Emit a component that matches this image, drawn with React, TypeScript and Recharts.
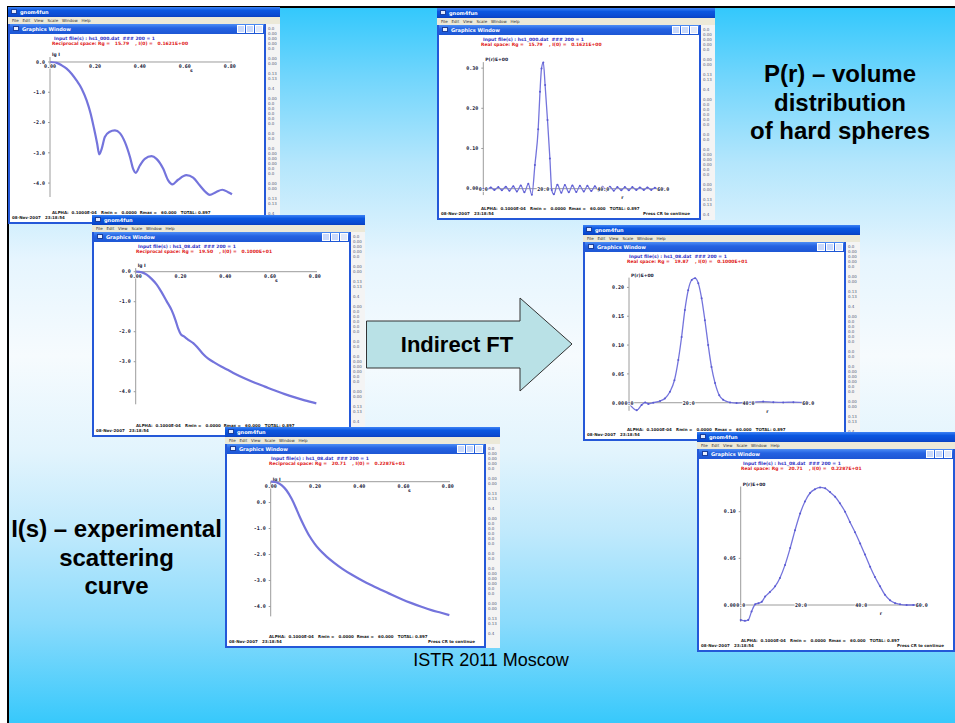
import React from "react";
import { Line, LineChart, ReferenceLine, XAxis, YAxis } from "recharts";

// ---- scattering curves lg I(s) ----
const sphereS = [0, 0.03, 0.052, 0.074, 0.096, 0.118, 0.141, 0.163, 0.181, 0.196, 0.21, 0.219, 0.23, 0.244, 0.264, 0.289, 0.311, 0.333, 0.356, 0.37, 0.382, 0.4, 0.422, 0.452, 0.474, 0.504, 0.526, 0.545, 0.57, 0.607, 0.637, 0.667, 0.693, 0.711, 0.738, 0.767, 0.793, 0.81];
const sphereLogI = [0, -0.03, -0.11, -0.22, -0.39, -0.61, -0.88, -1.27, -1.71, -2.2, -2.7, -3.05, -2.87, -2.48, -2.31, -2.26, -2.35, -2.64, -3.14, -3.53, -3.66, -3.42, -3.2, -3.11, -3.2, -3.53, -3.91, -4.04, -3.89, -3.74, -3.82, -4.08, -4.3, -4.39, -4.3, -4.22, -4.3, -4.37];

const narrowS = [0, 0.027, 0.049, 0.071, 0.094, 0.116, 0.138, 0.161, 0.178, 0.19, 0.202, 0.214, 0.235, 0.257, 0.28, 0.302, 0.324, 0.354, 0.384, 0.413, 0.443, 0.488, 0.532, 0.577, 0.622, 0.666, 0.711, 0.755, 0.807];
const narrowLogI = [0, -0.02, -0.1, -0.24, -0.43, -0.69, -0.98, -1.29, -1.62, -1.9, -2.09, -2.15, -2.27, -2.38, -2.56, -2.75, -2.9, -3.04, -3.17, -3.28, -3.4, -3.56, -3.7, -3.83, -3.96, -4.08, -4.19, -4.29, -4.39];

const broadS = [0, 0.027, 0.049, 0.071, 0.094, 0.113, 0.131, 0.153, 0.175, 0.198, 0.22, 0.25, 0.287, 0.324, 0.369, 0.413, 0.458, 0.503, 0.547, 0.592, 0.636, 0.681, 0.726, 0.77, 0.807];
const broadLogI = [0.8, 0.77, 0.67, 0.47, 0.15, -0.19, -0.55, -0.94, -1.29, -1.58, -1.81, -2.06, -2.32, -2.55, -2.79, -3.0, -3.19, -3.37, -3.55, -3.72, -3.87, -4.01, -4.14, -4.24, -4.33];

// ---- volume distributions P(r) ----
const sphereR = [0, 1.2, 2.5, 3.7, 5.0, 6.2, 7.5, 8.7, 10.0, 11.2, 12.5, 13.7, 15.0, 16.2, 17.2, 18.3, 18.9, 19.4, 20.0, 20.6, 21.4, 22.2, 22.8, 23.5, 24.7, 26.0, 27.2, 28.5, 29.7, 31.0, 32.2, 33.5, 34.7, 36.0, 37.2, 38.5, 39.7, 41.0, 42.2, 43.5, 44.7, 46.0, 47.2, 48.5, 49.7, 51.0, 52.2, 53.5, 54.7, 56.0, 57.2, 58.5, 60.0];
const sphereP = [0, -0.002, 0.003, -0.003, 0.004, -0.004, 0.005, -0.005, 0.006, -0.007, 0.008, -0.009, 0.012, -0.015, 0.059, 0.148, 0.241, 0.299, 0.314, 0.258, 0.171, 0.075, -0.003, -0.014, 0.01, -0.01, 0.009, -0.009, 0.008, -0.008, 0.007, -0.007, 0.007, -0.006, 0.006, -0.006, 0.005, -0.005, 0.005, -0.005, 0.004, -0.004, 0.004, -0.004, 0.004, -0.003, 0.003, -0.003, 0.003, -0.003, 0.002, -0.002, 0];

const narrowR = [0, 2.6, 4.2, 5.4, 6.5, 8.1, 10.4, 12.0, 13.7, 15.2, 16.5, 17.6, 18.7, 19.8, 21.0, 22.1, 23.2, 24.3, 25.4, 26.5, 27.6, 28.8, 30.2, 31.5, 33.8, 36.0, 38.2, 41.6, 44.9, 48.3, 51.6, 55.0, 60.0];
const narrowP = [-0.001, -0.013, -0.004, 0.0006, -0.002, 0, 0.003, 0.0075, 0.019, 0.039, 0.074, 0.114, 0.161, 0.195, 0.213, 0.216, 0.207, 0.181, 0.143, 0.1, 0.062, 0.034, 0.013, 0.005, 0.0006, -0.0006, 0, 0.001, 0.002, 0.001, 0.0006, 0.001, 0];

const broadR = [0, 1.4, 2.5, 3.6, 4.8, 5.9, 7.0, 8.1, 9.7, 11.4, 13.0, 14.7, 16.4, 18.0, 19.7, 21.3, 23.0, 24.6, 26.3, 28.0, 29.6, 31.3, 32.9, 34.6, 36.2, 37.9, 39.6, 41.2, 42.9, 44.5, 46.2, 47.8, 49.5, 51.2, 52.8, 55.0, 57.2, 60.0];
const broadP = [-0.016, -0.017, -0.016, -0.007, 0.0007, 0.002, 0.0036, 0.009, 0.014, 0.02, 0.029, 0.043, 0.061, 0.08, 0.098, 0.111, 0.12, 0.124, 0.126, 0.125, 0.121, 0.116, 0.109, 0.1, 0.089, 0.078, 0.066, 0.054, 0.041, 0.03, 0.02, 0.011, 0.005, 0.002, 0.0007, 0, 0, 0];

const sTicks = [0, 0.2, 0.4, 0.6, 0.8];
const rTicks = [0, 20, 40, 60];
const logTicks = [0, -1, -2, -3, -4];
const prTicksTall = [0, 0.1, 0.2, 0.3];
const prTicksMid = [0, 0.05, 0.1, 0.15, 0.2];
const prTicksLow = [0, 0.05, 0.1];

const STRIP_LINES = ["0.0", "0.00", "0.00", "0.00", "0.0", "", "0.00", "0.00", "", "0.13", "0.13", "", "0.4", "", "0.00", "0.0", "0.0", "0.0", "0.0", "0.0", "", "0.0", "0.0", "", "0.0", "0.00", "0.00", "0.00", "0.0", "0.0", "", "0.00", "0.00", "", "0.13", "0.13", "", "0.4"];

const zip = (xs: number[], ys: number[]) => xs.map((x, i) => ({ x, y: ys[i] }));

const CURVE = "#7474dc";
const AXIS = "#9c9c9c";
const LABEL = "#1a1a3a";
const X_AXIS_H = 8;
const Y_AXIS_W = 36;
const MONO = "'DejaVu Sans Mono', monospace";

interface PlotProps {
  data: { x: number; y: number }[];
  w: number;
  h: number;
  left: number;
  right: number;
  top: number;
  bottom: number;
  xDomain: [number, number];
  yDomain: [number, number];
  xTicks: number[];
  yTicks: number[];
  xDigits: number;
  yDigits: number;
  axisY: number;
  labelDy: number;
  dots: boolean;
  lineWidth: number;
}

function GnomPlot(p: PlotProps) {
  const plotH = p.bottom - p.top;
  const axisPx = p.top + ((p.yDomain[1] - p.axisY) / (p.yDomain[1] - p.yDomain[0])) * plotH;
  return (
    <LineChart
      width={p.w}
      height={p.h}
      data={p.data}
      margin={{ left: p.left - Y_AXIS_W, right: p.w - p.right, top: p.top, bottom: p.h - p.bottom - X_AXIS_H }}
      style={{ position: "absolute", left: 0, top: 0 }}
    >
      <XAxis
        dataKey="x"
        type="number"
        domain={p.xDomain}
        ticks={p.xTicks}
        interval={0}
        height={X_AXIS_H}
        axisLine={false}
        tickLine={false}
        tick={(t: any) => (
          <text
            x={t.x}
            y={axisPx + p.labelDy}
            textAnchor="middle"
            fontSize={5}
            fontWeight={700}
            fontFamily={MONO}
            fill={LABEL}
            stroke="#fff"
            strokeWidth={1.5}
            paintOrder="stroke"
          >
            {Number(t.payload.value).toFixed(p.xDigits)}
          </text>
        )}
      />
      <YAxis
        type="number"
        domain={p.yDomain}
        ticks={p.yTicks}
        interval={0}
        width={Y_AXIS_W}
        axisLine={{ stroke: AXIS }}
        tickLine={{ stroke: AXIS }}
        tickSize={2}
        tickMargin={3}
        tick={{ fontSize: 5, fontWeight: 700, fill: LABEL, fontFamily: MONO }}
        tickFormatter={(v: number) => v.toFixed(p.yDigits)}
      />
      <ReferenceLine y={p.axisY} stroke={AXIS} />
      <Line
        type="monotone"
        dataKey="y"
        stroke={CURVE}
        strokeWidth={p.lineWidth}
        dot={p.dots ? { r: 1, fill: "#5b5bd2", stroke: "none" } : false}
        isAnimationActive={false}
      />
    </LineChart>
  );
}

const tiny = (size: number, color: string, bold = true): React.CSSProperties => ({
  position: "absolute",
  fontSize: size,
  lineHeight: `${size + 1}px`,
  color,
  fontWeight: bold ? 700 : 400,
  whiteSpace: "pre",
  fontFamily: "'DejaVu Sans', sans-serif",
});

interface WinProps {
  left: number;
  top: number;
  w: number;
  h: number;
  z: number;
  info: string;
  space: string;
  yLabel: string;
  xLabel: string;
  plot: Omit<PlotProps, "w" | "h">;
  press?: boolean;
  stripW?: number;
}

function GnomWindow({ left, top, w, h, z, info, space, yLabel, xLabel, plot, press, stripW = 14 }: WinProps) {
  const innerW = w - stripW;
  const axisPx = plot.top + ((plot.yDomain[1] - plot.axisY) / (plot.yDomain[1] - plot.yDomain[0])) * (plot.bottom - plot.top);
  return (
    <div style={{ position: "absolute", left, top, width: w, height: h, zIndex: z, background: "#fff", overflow: "hidden" }}>
      <div
        style={{
          position: "absolute",
          left: 0,
          top: 0,
          width: w,
          height: 10,
          background: "linear-gradient(#3c82f5, #0b57e0 35%, #0a4bd2 80%, #0840c0)",
        }}
      >
        <div style={{ position: "absolute", left: 3, top: 2, width: 6, height: 5, background: "#dfe9ff", border: "1px solid #1b3f9c", boxSizing: "border-box" }} />
        <div style={{ ...tiny(5, "#fff"), left: 12, top: 2 }}>gnom4fun</div>
      </div>
      <div style={{ position: "absolute", left: 0, top: 10, width: w, height: 7, background: "#ece9d8" }}>
        <div style={{ ...tiny(4, "#333", false), left: 4, top: 1 }}>{"File   Edit   View   Scale   Window   Help"}</div>
      </div>
      <div
        style={{
          position: "absolute",
          left: 0,
          top: 17,
          width: innerW,
          height: h - 17,
          boxSizing: "border-box",
          borderLeft: "2px solid #2458d8",
          borderRight: "2px solid #2458d8",
          borderBottom: "2px solid #2458d8",
          background: "#fff",
        }}
      >
        <div
          style={{
            position: "absolute",
            left: 0,
            top: 0,
            right: 0,
            height: 10,
            background: "linear-gradient(#4d8ef6, #2563e2 40%, #1d56d4)",
          }}
        >
          <div style={{ position: "absolute", left: 3, top: 2, width: 6, height: 5, background: "#e8efff", border: "1px solid #1b3f9c", boxSizing: "border-box" }} />
          <div style={{ ...tiny(5, "#fff"), left: 12, top: 2 }}>Graphics Window</div>
          {[25, 16, 7].map((r, i) => (
            <div
              key={r}
              style={{
                position: "absolute",
                right: r - 6,
                top: 1,
                width: 8,
                height: 8,
                boxSizing: "border-box",
                border: "1px solid #fff",
                background: i === 2 ? "#e0e8fa" : "#c9d9fb",
              }}
            />
          ))}
        </div>
      </div>
      {stripW > 0 ? (
        <div
          style={{
            position: "absolute",
            left: innerW,
            top: 17,
            width: stripW,
            height: h - 17,
            background: "#f4f4f4",
            overflow: "hidden",
          }}
        >
          {STRIP_LINES.map((s, i) => (
            <div key={i} style={{ ...tiny(4, "#55607a", false), left: 2, top: 2 + i * 5 }}>
              {s}
            </div>
          ))}
        </div>
      ) : null}
      <div style={{ ...tiny(4.5, "#3232c4"), left: 46, top: 29 }}>{info}</div>
      <div style={{ ...tiny(4.5, "#e02020"), left: 44, top: 34 }}>{space}</div>
      <div style={{ ...tiny(4.5, LABEL), left: plot.left + 2, top: plot.top - 5 }}>{yLabel}</div>
      <div style={{ ...tiny(4.5, LABEL), left: plot.right - 42, top: axisPx + 6 }}>{xLabel}</div>
      <div style={{ ...tiny(4, "#222"), left: 44, top: h - 14 }}>
        {"ALPHA:  0.1000E-04   Rmin =   0.0000  Rmax =   60.000   TOTAL: 0.897"}
      </div>
      <div style={{ ...tiny(4, "#222"), left: 4, top: h - 9 }}>{"08-Nov-2007   23:18:54"}</div>
      {press ? <div style={{ ...tiny(4, "#222"), left: innerW - 58, top: h - 9 }}>Press CR to continue</div> : null}
      <div style={{ position: "absolute", left: 0, top: 0, width: w, height: h, zIndex: 2 }}>
        <GnomPlot {...plot} w={w} h={h} />
      </div>
    </div>
  );
}

const bigText: React.CSSProperties = {
  position: "absolute",
  fontFamily: "'Liberation Sans', Arial, sans-serif",
  fontWeight: 700,
  fontSize: 24,
  lineHeight: "28.5px",
  color: "#000",
  textAlign: "center",
  whiteSpace: "nowrap",
};

export default function App() {
  return (
    <div style={{ position: "absolute", left: 0, top: 0, width: 955, height: 723, overflow: "hidden", background: "#fff" }}>
      <div
        style={{
          position: "absolute",
          left: 7,
          top: 6,
          width: 980,
          height: 740,
          borderTop: "2px solid #000",
          borderLeft: "2px solid #000",
          background:
            "linear-gradient(to bottom, #33c8fc 0%, #6fd5fc 9%, #b4e6fc 21%, #e6f5fe 34%, #f6fbfe 47%, #e2f4fd 60%, #bfe9fc 71%, #8adbfc 83%, #35c8fb 97%)",
        }}
      />

      <GnomWindow
        left={8}
        top={7}
        w={272}
        h={217}
        z={1}
        info="Input file(s) : hs1_000.dat  ### 200 = 1"
        space="Reciprocal space: Rg =   15.79    , I(0) =   0.1621E+00"
        yLabel="lg I"
        xLabel="s"
        plot={{
          data: zip(sphereS, sphereLogI),
          left: 42,
          right: 224,
          top: 50,
          bottom: 190,
          xDomain: [0, 0.81],
          yDomain: [-4.46, 0.165],
          xTicks: sTicks,
          yTicks: logTicks,
          xDigits: 2,
          yDigits: 1,
          axisY: 0,
          labelDy: 6,
          dots: false,
          lineWidth: 2.2,
        }}
      />
      <GnomWindow
        left={92}
        top={215}
        w={273}
        h={222}
        z={2}
        info="Input file(s) : hs1_08.dat  ### 200 = 1"
        space="Reciprocal space: Rg =   19.50    , I(0) =   0.1000E+01"
        yLabel="lg I"
        xLabel="s"
        plot={{
          data: zip(narrowS, narrowLogI),
          left: 43.7,
          right: 225,
          top: 53.1,
          bottom: 189.3,
          xDomain: [0, 0.81],
          yDomain: [-4.42, 0.12],
          xTicks: sTicks,
          yTicks: logTicks,
          xDigits: 2,
          yDigits: 1,
          axisY: 0,
          labelDy: 6,
          dots: false,
          lineWidth: 2.2,
        }}
      />
      <GnomWindow
        left={225}
        top={427}
        w={275}
        h={221}
        z={3}
        info="Input file(s) : hs1_08.dat  ### 200 = 1"
        space="Reciprocal space: Rg =   20.71    , I(0) =   0.2287E+01"
        yLabel="lg I"
        xLabel="s"
        press
        plot={{
          data: zip(broadS, broadLogI),
          left: 45.7,
          right: 225,
          top: 54.7,
          bottom: 189.4,
          xDomain: [0, 0.81],
          yDomain: [-4.38, 0.8],
          xTicks: sTicks,
          yTicks: logTicks,
          xDigits: 2,
          yDigits: 1,
          axisY: 0.8,
          labelDy: 6,
          dots: false,
          lineWidth: 2.2,
        }}
      />

      <GnomWindow
        left={437}
        top={8}
        w={278}
        h={212}
        z={1}
        info="Input file(s) : hs1_000.dat  ### 200 = 1"
        space="Real space: Rg =   15.79    , I(0) =   0.1621E+00"
        yLabel="P(r)E+00"
        xLabel="r"
        press
        plot={{
          data: zip(sphereR, sphereP),
          left: 46.3,
          right: 226.3,
          top: 54.1,
          bottom: 187.1,
          xDomain: [0, 60],
          yDomain: [-0.016, 0.315],
          xTicks: rTicks,
          yTicks: prTicksTall,
          xDigits: 1,
          yDigits: 2,
          axisY: 0,
          labelDy: 2,
          dots: true,
          lineWidth: 1.3,
        }}
      />
      <GnomWindow
        left={583}
        top={225}
        w={277}
        h={216}
        z={2}
        info="Input file(s) : hs1_08.dat  ### 200 = 1"
        space="Real space: Rg =   19.87    , I(0) =   0.1000E+01"
        yLabel="P(r)E+00"
        xLabel="r"
        plot={{
          data: zip(narrowR, narrowP),
          left: 46,
          right: 225.3,
          top: 52.6,
          bottom: 185.8,
          xDomain: [0, 60],
          yDomain: [-0.014, 0.217],
          xTicks: rTicks,
          yTicks: prTicksMid,
          xDigits: 1,
          yDigits: 2,
          axisY: 0,
          labelDy: 2,
          dots: true,
          lineWidth: 1.3,
        }}
      />
      <GnomWindow
        left={697}
        top={432}
        w={258}
        h={220}
        z={3}
        stripW={0}
        info="Input file(s) : hs1_08.dat  ### 200 = 1"
        space="Real space: Rg =   20.71    , I(0) =   0.2287E+01"
        yLabel="P(r)E+00"
        xLabel="r"
        press
        plot={{
          data: zip(broadR, broadP),
          left: 43.7,
          right: 224.7,
          top: 54.5,
          bottom: 189.8,
          xDomain: [0, 60],
          yDomain: [-0.018, 0.127],
          xTicks: rTicks,
          yTicks: prTicksLow,
          xDigits: 1,
          yDigits: 2,
          axisY: 0,
          labelDy: 2,
          dots: true,
          lineWidth: 1.3,
        }}
      />

      <svg width={210} height={96} style={{ position: "absolute", left: 366, top: 297, zIndex: 5 }}>
        <polygon points="0.5,24 154,24 154,1 206,47 154,94 154,71 0.5,71" fill="#b9e1e6" stroke="#333" strokeWidth={1} />
        <text x={91} y={55} textAnchor="middle" fontFamily="'Liberation Sans', Arial, sans-serif" fontWeight={700} fontSize={22} fill="#000">
          Indirect FT
        </text>
      </svg>

      <div style={{ ...bigText, left: 720, top: 60, width: 240 }}>
        P(r) – volume
        <br />
        distribution
        <br />
        of hard spheres
      </div>
      <div style={{ ...bigText, left: 0, top: 515, width: 233 }}>
        I(s) – experimental
        <br />
        scattering
        <br />
        curve
      </div>
      <div
        style={{
          position: "absolute",
          left: 391,
          top: 650,
          width: 200,
          textAlign: "center",
          fontFamily: "'Liberation Sans', Arial, sans-serif",
          fontSize: 18,
          lineHeight: "20px",
          color: "#000",
        }}
      >
        ISTR 2011 Moscow
      </div>
    </div>
  );
}
